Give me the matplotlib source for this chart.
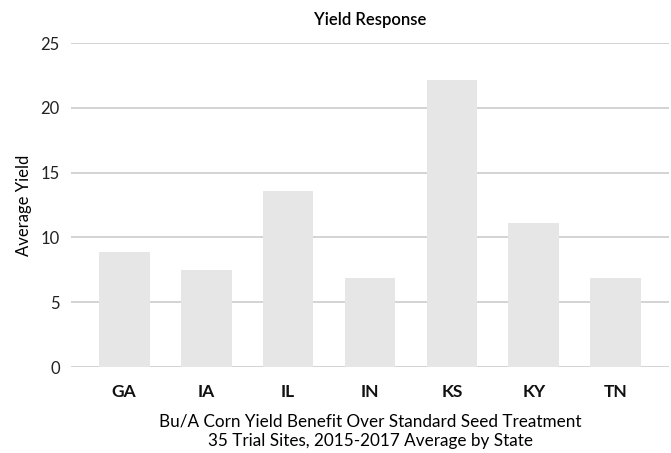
import matplotlib
matplotlib.use("Agg")
from matplotlib import pyplot as plt

states = ["GA", "IA", "IL", "IN", "KS", "KY", "TN"]
avg_yield = [8.85, 7.45, 13.6, 6.85, 22.15, 11.1, 6.85]
y_ticks = [0, 5, 10, 15, 20, 25]

plt.rcParams["font.family"] = ["Lato", "DejaVu Sans"]

fig = plt.figure(figsize=(6.71, 4.53), dpi=100)
ax = fig.add_axes([71 / 671, 86 / 453, 598 / 671, 324 / 453])

ax.bar(range(len(states)), avg_yield, width=0.62, color="#e6e6e6", zorder=2)

ax.set_xlim(-0.65, len(states) - 0.35)
ax.set_ylim(0, 25)
ax.set_yticks(y_ticks)
ax.set_xticks(range(len(states)))
ax.set_xticklabels(states, fontweight="bold")
ax.grid(axis="y", color="#cccccc", linewidth=1.2, zorder=0)
ax.set_axisbelow(True)
for s in ax.spines.values():
    s.set_visible(False)
ax.tick_params(axis="y", length=0, pad=8, labelsize=12, colors="#222222")
ax.tick_params(axis="x", length=0, pad=12, labelsize=12.5, colors="#111111")

ax.set_title("Yield Response", fontsize=12, fontweight="semibold", pad=13)
ax.set_ylabel("Average Yield", fontsize=12, labelpad=6)
ax.set_xlabel("Bu/A Corn Yield Benefit Over Standard Seed Treatment\n35 Trial Sites, 2015-2017 Average by State",
              fontsize=12.3, labelpad=10, linespacing=1.3)

fig.savefig("out.png", dpi=100)
